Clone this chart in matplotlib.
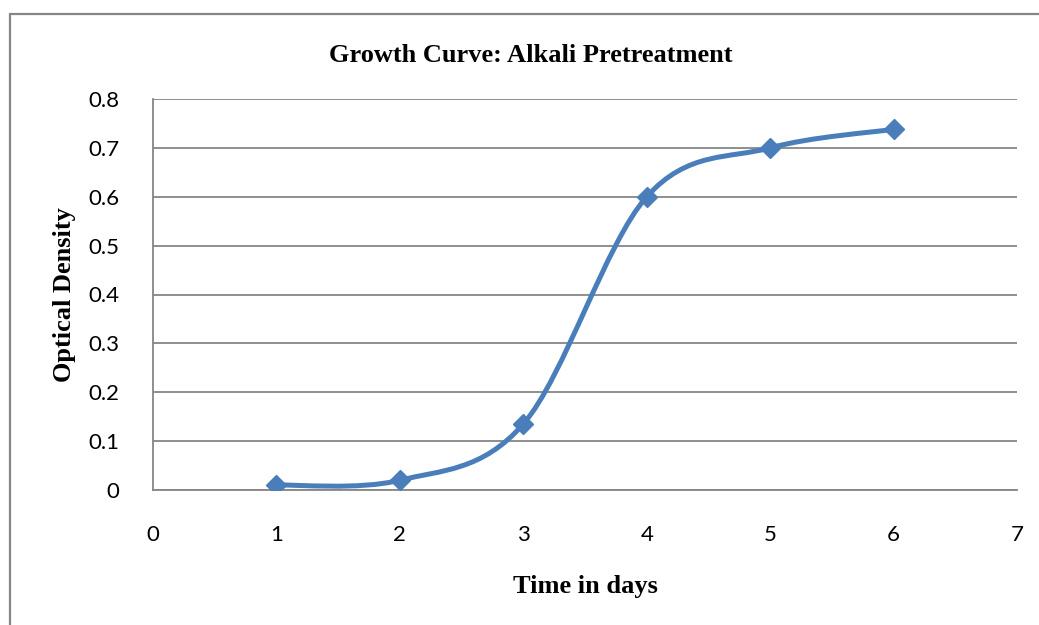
import numpy as np
import matplotlib.pyplot as plt
from matplotlib.path import Path
from matplotlib.patches import PathPatch, Rectangle

days = [1, 2, 3, 4, 5, 6]
optical_density = [0.01, 0.02, 0.135, 0.6, 0.70, 0.738]
x_ticks = [0, 1, 2, 3, 4, 5, 6, 7]
y_ticks = [0, 0.1, 0.2, 0.3, 0.4, 0.5, 0.6, 0.7, 0.8]

blue = '#4a7ebb'
grey = '#868686'
serif = 'Liberation Serif'
sans = 'Lato'

fig = plt.figure(figsize=(10.39, 6.25), dpi=100)
ax = fig.add_axes([0.1473, 0.216, 0.8315, 0.6256])

# outer chart frame (only top and left edges visible)
fig.add_artist(Rectangle((10 / 1039, -0.1), 1.2, (625 - 14) / 625 + 0.1,
                         transform=fig.transFigure, fill=False,
                         edgecolor=grey, linewidth=1.6))

# smoothed line like Excel (catmull-rom -> bezier)
pts = np.column_stack([days, optical_density])
ext = np.vstack([pts[0], pts, pts[-1]])
verts = [tuple(pts[0])]
codes = [Path.MOVETO]
for i in range(1, len(ext) - 2):
    p0, p1, p2, p3 = ext[i - 1], ext[i], ext[i + 1], ext[i + 2]
    c1 = p1 + (p2 - p0) / 6
    c2 = p2 - (p3 - p1) / 6
    verts += [tuple(c1), tuple(c2), tuple(p2)]
    codes += [Path.CURVE4] * 3
ax.add_patch(PathPatch(Path(verts, codes), fill=False, edgecolor=blue,
                       linewidth=3.6, capstyle='round', zorder=3))
ax.plot(days, optical_density, linestyle='none', marker='D', markersize=10.5,
        color=blue, zorder=4)

ax.set_xlim(0, 7)
ax.set_ylim(0, 0.8)
ax.set_xticks(x_ticks)
ax.set_yticks(y_ticks)
ax.set_xticklabels([str(t) for t in x_ticks])
ax.set_yticklabels(['0'] + ['%.1f' % t for t in y_ticks[1:]])
ax.tick_params(length=0, labelsize=16, colors='black')
ax.tick_params(axis='x', pad=25)
ax.tick_params(axis='y', pad=24)
for lbl in ax.get_xticklabels() + ax.get_yticklabels():
    lbl.set_fontfamily(sans)
ax.grid(axis='y', color=grey, linewidth=1.3)
ax.set_axisbelow(True)
for s in ['top', 'right']:
    ax.spines[s].set_visible(False)
for s in ['left', 'bottom']:
    ax.spines[s].set_color(grey)
    ax.spines[s].set_linewidth(1.3)

fig.text(531 / 1039, 1 - 55 / 625, 'Growth Curve: Alkali Pretreatment',
         ha='center', va='center', fontsize=19, fontweight='bold', family=serif)
fig.text(585 / 1039, 1 - 586 / 625, 'Time in days', ha='center', va='center',
         fontsize=19, fontweight='bold', family=serif)
fig.text(64 / 1039, 1 - 295 / 625, 'Optical Density', ha='center', va='center',
         rotation=90, fontsize=19, fontweight='bold', family=serif)

fig.savefig('out.png', dpi=100)
